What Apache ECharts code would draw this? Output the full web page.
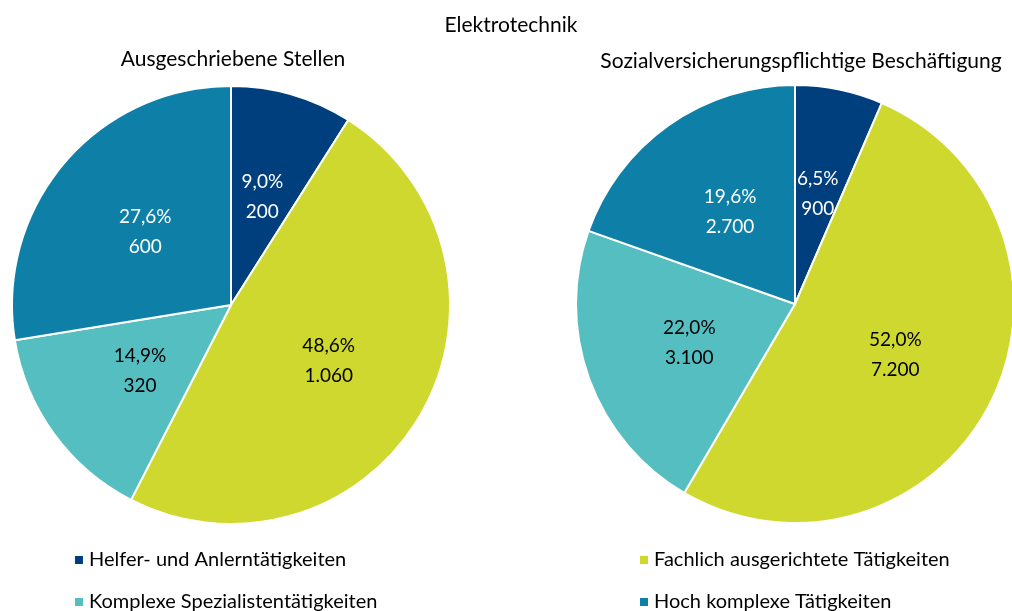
<!DOCTYPE html>
<html>
<head>
<meta charset="utf-8">
<script src="https://cdn.jsdelivr.net/npm/echarts@6/dist/echarts.min.js"></script>
<style>
html,body{margin:0;padding:0;background:#fff;}
#main{width:1012px;height:611px;}
</style>
</head>
<body>
<div id="main"></div>
<script>
var categories = ['Helfer- und Anlerntätigkeiten', 'Fachlich ausgerichtete Tätigkeiten', 'Komplexe Spezialistentätigkeiten', 'Hoch komplexe Tätigkeiten'];
var colors = ['#003f7d', '#cfd82e', '#55bec1', '#0e80a8'];
var labelColors = ['#fff', '#000', '#000', '#fff'];

var stellenPct = [9.0, 48.6, 14.9, 27.6];
var stellenVal = ['200', '1.060', '320', '600'];
var beschPct = [6.5, 52.0, 22.0, 19.6];
var beschVal = ['900', '7.200', '3.100', '2.700'];

var font = 'Lato';

function buildData(pct, vals) {
    return categories.map(function (c, i) {
        return {
            name: c,
            value: pct[i],
            count: vals[i],
            itemStyle: { color: colors[i] },
            label: { color: labelColors[i] }
        };
    });
}

function fmt(p) {
    return p.data.value.toFixed(1).replace('.', ',') + '%\n' + p.data.count;
}

// one legend per entry so each can sit in its own grid cell
function legendItem(name, left, top) {
    return {
        data: [name],
        left: left, top: top,
        icon: 'rect', itemWidth: 10, itemHeight: 10, itemGap: 6,
        textStyle: { fontFamily: font, fontSize: 20, color: '#000' }
    };
}

var dom = document.getElementById('main');
var myChart = echarts.init(dom);

var pieBase = {
    type: 'pie',
    radius: [0, 219],
    startAngle: 90,
    clockwise: true,
    avoidLabelOverlap: false,
    itemStyle: { borderColor: '#fff', borderWidth: 2 },
    label: {
        show: true,
        position: 'inner',
        formatter: fmt,
        fontFamily: font,
        fontSize: 19,
        lineHeight: 30
    },
    labelLine: { show: false },
    emphasis: { disabled: true }
};

var titleStyle = { fontFamily: font, fontSize: 21, fontWeight: 'normal', color: '#000' };

option = {
    backgroundColor: '#fff',
    animation: false,
    title: [
        { text: 'Elektrotechnik', left: 506, top: 10, textAlign: 'center', textStyle: titleStyle },
        { text: 'Ausgeschriebene Stellen', left: 228, top: 44, textAlign: 'center', textStyle: titleStyle },
        { text: 'Sozialversicherungspflichtige Beschäftigung', left: 796, top: 46, textAlign: 'center', textStyle: titleStyle }
    ],
    legend: [
        legendItem(categories[0], 68, 545),
        legendItem(categories[2], 68, 587),
        legendItem(categories[1], 633, 545),
        legendItem(categories[3], 633, 587)
    ],
    series: [
        Object.assign({}, pieBase, { name: 'Ausgeschriebene Stellen', center: [231, 305], data: buildData(stellenPct, stellenVal) }),
        Object.assign({}, pieBase, { name: 'Sozialversicherungspflichtige Beschäftigung', center: [795, 304], data: buildData(beschPct, beschVal) })
    ]
};

if (option && typeof option === 'object') {
    myChart.setOption(option, true);
}
</script>
</body>
</html>
